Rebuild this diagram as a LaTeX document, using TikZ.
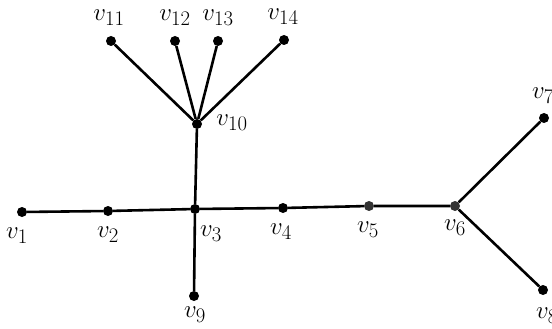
\documentclass[tikz,border=0pt]{standalone}
\begin{document}
\begin{tikzpicture}[x=1pt,y=-1pt,
  vtx/.style={circle,fill=black,inner sep=0pt,minimum size=10pt},
  lbl/.style={inner sep=0pt,font=\fontsize{29}{33}\selectfont},
  edge/.style={line width=2.6pt}]
\useasboundingbox (0,0) rectangle (552,329);
\node[vtx] (v1) at (22,212) {};
\node[vtx] (v2) at (108,211) {};
\node[vtx] (v3) at (195,209) {};
\node[vtx] (v4) at (283,208) {};
\node[vtx,fill=black!80] (v5) at (369,206) {};
\node[vtx,fill=black!80] (v6) at (455,206) {};
\node[vtx] (v7) at (544,118) {};
\node[vtx] (v8) at (543,290) {};
\node[vtx] (v9) at (194,296) {};
\node[vtx] (v10) at (197,124) {};
\node[vtx] (v11) at (111,41) {};
\node[vtx] (v12) at (175,41) {};
\node[vtx] (v13) at (218,41) {};
\node[vtx] (v14) at (284,40) {};
\draw[edge] (v1) -- (v2) -- (v3) -- (v4) -- (v5) -- (v6);
\draw[edge] (v6) -- (v7);
\draw[edge] (v6) -- (v8);
\draw[edge] (v3) -- (v9);
\draw[edge] (v3) -- (v10);
\draw[edge] (v10) -- (v11);
\draw[edge] (v10) -- (v12);
\draw[edge] (v10) -- (v13);
\draw[edge] (v10) -- (v14);
\node[lbl] (l1) at (17,236) {$v_1$};
\node[lbl] (l2) at (108,235) {$v_2$};
\node[lbl] (l3) at (211,234) {$v_3$};
\node[lbl] (l4) at (281,232) {$v_4$};
\node[lbl] (l5) at (368,230) {$v_5$};
\node[lbl] (l6) at (455,228) {$v_6$};
\node[lbl] (l7) at (543,96) {$v_7$};
\node[lbl] (l8) at (547,316) {$v_8$};
\node[lbl] (l9) at (195,315) {$v_9$};
\node[lbl] (l10) at (232,123) {$v_{10}$};
\node[lbl] (l11) at (109,18) {$v_{11}$};
\node[lbl] (l12) at (175,18) {$v_{12}$};
\node[lbl] (l13) at (218,18) {$v_{13}$};
\node[lbl] (l14) at (283,17) {$v_{14}$};
\end{tikzpicture}
\end{document}
